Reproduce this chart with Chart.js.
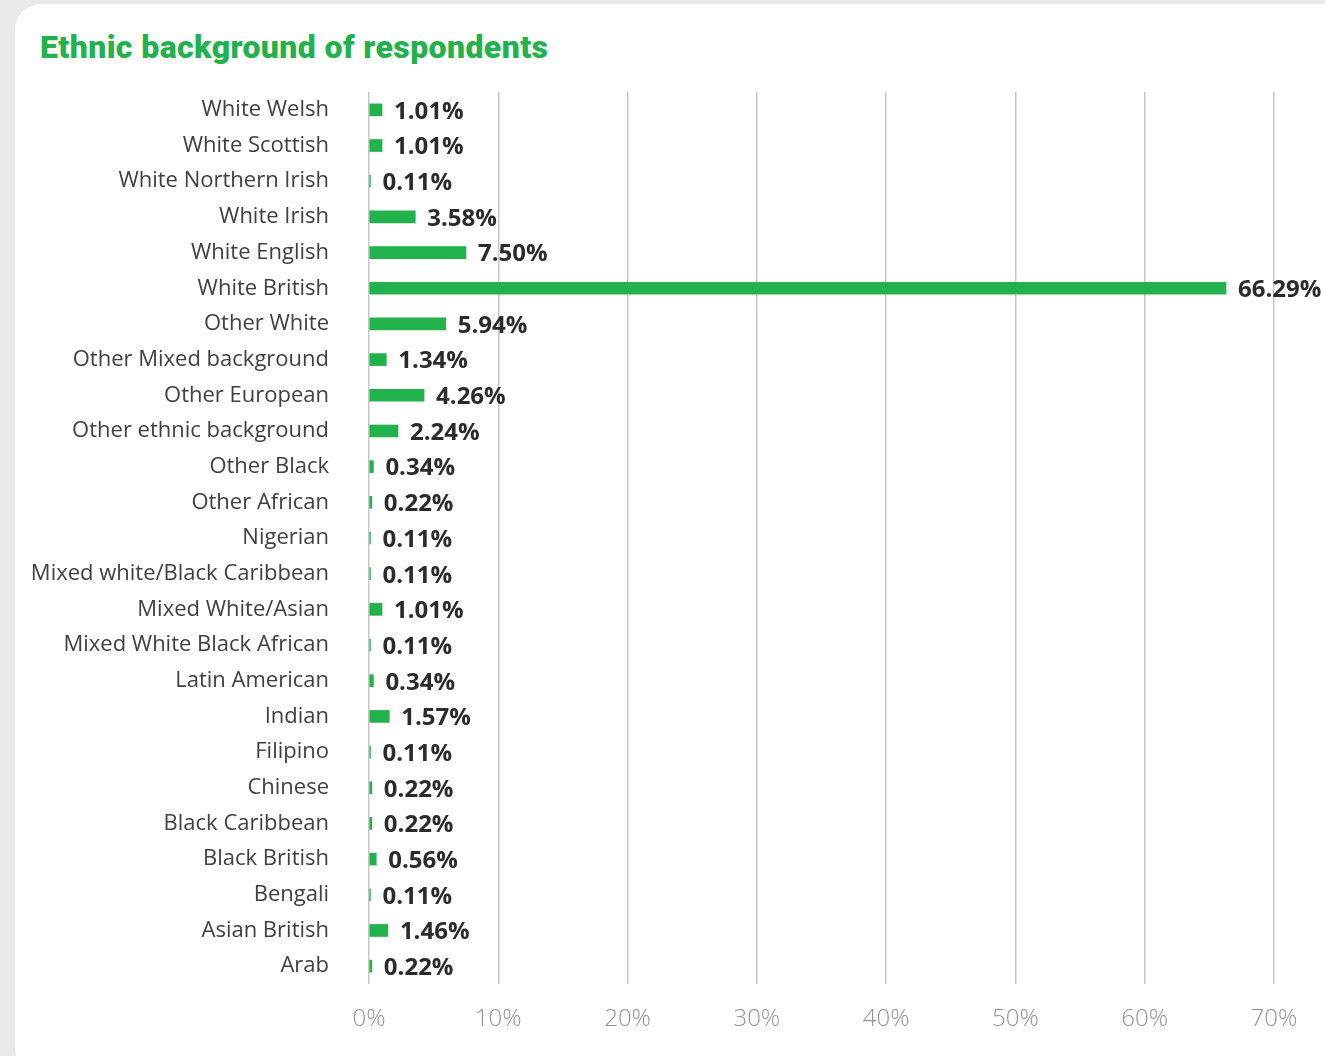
<!DOCTYPE html>
<html>
<head>
<meta charset="utf-8">
<script src="https://cdn.jsdelivr.net/npm/chart.js@4.4.1/dist/chart.umd.min.js"></script>
<style>
    html, body { margin: 0; padding: 0; background: #e8e9eb; overflow: hidden; }
    .card {
        position: absolute; left: 15px; top: 4px; width: 1400px; height: 1070px;
        background: #ffffff; border-radius: 26px;
    }
    .title {
        position: absolute; left: 40px; top: 29px; margin: 0;
        font-family: Roboto, sans-serif; font-weight: 900; font-size: 32px;
        line-height: 36px; letter-spacing: 0.4px; color: #22b24c; white-space: nowrap;
    }
    .wrap { position: absolute; left: 0; top: 0; width: 1325px; height: 1056px; }
</style>
</head>
<body>
<div class="card"></div>
<h1 class="title">Ethnic background of respondents</h1>
<div class="wrap"><canvas id="barChart"></canvas></div>
<script>
const categories = [
    'White Welsh', 'White Scottish', 'White Northern Irish', 'White Irish', 'White English',
    'White British', 'Other White', 'Other Mixed background', 'Other European',
    'Other ethnic background', 'Other Black', 'Other African', 'Nigerian',
    'Mixed white/Black Caribbean', 'Mixed White/Asian', 'Mixed White Black African',
    'Latin American', 'Indian', 'Filipino', 'Chinese', 'Black Caribbean',
    'Black British', 'Bengali', 'Asian British', 'Arab'
];
const percentages = [
    1.01, 1.01, 0.11, 3.58, 7.50,
    66.29, 5.94, 1.34, 4.26,
    2.24, 0.34, 0.22, 0.11,
    0.11, 1.01, 0.11,
    0.34, 1.57, 0.11, 0.22, 0.22,
    0.56, 0.11, 1.46, 0.22
];
const xTicks = [0, 10, 20, 30, 40, 50, 60, 70];

const green = '#22b24c';

// value labels just past the end of each bar
const valueLabels = {
    id: 'valueLabels',
    afterDatasetsDraw(chart) {
        const ctx = chart.ctx;
        const meta = chart.getDatasetMeta(0);
        ctx.save();
        ctx.font = 'bold 24px "Open Sans"';
        ctx.fillStyle = '#2b2b2b';
        ctx.textAlign = 'left';
        ctx.textBaseline = 'middle';
        meta.data.forEach((bar, i) => {
            ctx.fillText(percentages[i].toFixed(2) + '%', bar.x + 12, bar.y + 2);
        });
        ctx.restore();
    }
};

new Chart(document.getElementById('barChart'), {
    type: 'bar',
    data: {
        labels: categories,
        datasets: [{
            data: percentages,
            backgroundColor: green,
            barThickness: 12
        }]
    },
    options: {
        indexAxis: 'y',
        responsive: true,
        maintainAspectRatio: false,
        animation: false,
        layout: {
            padding: { left: 0, right: 51, top: 92, bottom: 0 }
        },
        plugins: {
            legend: { display: false },
            tooltip: { enabled: false }
        },
        scales: {
            x: {
                min: 0,
                max: 70,
                afterBuildTicks: (scale) => {
                    scale.ticks = xTicks.map(v => ({ value: v }));
                },
                afterFit: (scale) => { scale.height = 72; },
                grid: { color: '#c6c6c6', lineWidth: 1.5, drawTicks: false },
                border: { display: false },
                ticks: {
                    color: '#939393',
                    padding: 21,
                    font: { family: 'Open Sans', size: 24, weight: 300 },
                    callback: (v) => v + '%'
                }
            },
            y: {
                afterFit: (scale) => { scale.width = 369; },
                grid: { display: false },
                border: { display: false },
                ticks: {
                    color: '#404040',
                    padding: 32,
                    font: { family: 'Open Sans', size: 22 }
                }
            }
        }
    },
    plugins: [valueLabels]
});
</script>
</body>
</html>
